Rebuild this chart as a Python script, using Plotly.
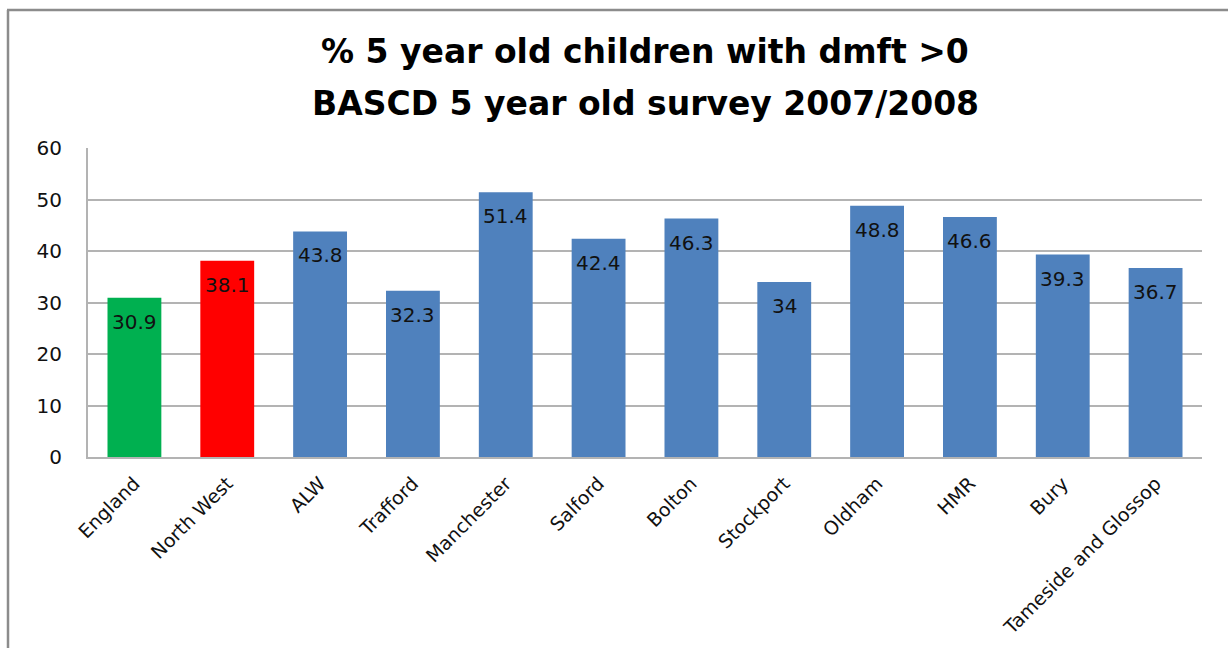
import plotly.graph_objects as go

# Survey results: percentage of 5 year olds with dmft > 0
areas = ["England", "North West", "ALW", "Trafford", "Manchester", "Salford",
         "Bolton", "Stockport", "Oldham", "HMR", "Bury", "Tameside and Glossop"]
pct = [30.9, 38.1, 43.8, 32.3, 51.4, 42.4, 46.3, 34, 48.8, 46.6, 39.3, 36.7]
bar_colors = ["#00B050", "#FF0000"] + ["#4F81BD"] * 10
y_ticks = [0, 10, 20, 30, 40, 50, 60]
title_lines = ["% 5 year old children with dmft >0", "BASCD 5 year old survey 2007/2008"]

W, H = 1228, 648
ML, MR, MT, MB = 88, 26, 148, 191
PW, PH = W - ML - MR, H - MT - MB

LABEL_FONT = "DejaVu Sans"
TITLE_FONT = "DejaVu Sans"
GRID = "#B3B3B3"
FRAME = "#8C8C8C"


def px_x(x):
    return (x - ML) / PW


def px_y(y):
    return (H - MB - y) / PH


fig = go.Figure(
    go.Bar(
        x=areas,
        y=pct,
        marker=dict(color=bar_colors, line=dict(width=0)),
        width=0.58,
        hoverinfo="x+y",
    )
)

# value labels just inside the top of each bar
annotations = [
    dict(x=a, y=v, xref="x", yref="y", text=f"{v:g}", showarrow=False,
         yanchor="middle", xanchor="center", yshift=-24,
         font=dict(family=LABEL_FONT, size=20, color="#111111"))
    for a, v in zip(areas, pct)
]

# two-line chart title
for line, ypix in zip(title_lines, [51, 104]):
    annotations.append(
        dict(x=0.5, y=px_y(ypix), xref="paper", yref="paper", text=f"<b>{line}</b>",
             showarrow=False, xanchor="center", yanchor="middle",
             font=dict(family=TITLE_FONT, size=33, color="#000000"))
    )

fig.update_layout(
    width=W,
    height=H,
    margin=dict(l=ML, r=MR, t=MT, b=MB, autoexpand=False),
    paper_bgcolor="white",
    plot_bgcolor="white",
    showlegend=False,
    font=dict(family=LABEL_FONT, size=20, color="#000000"),
    xaxis=dict(
        automargin=False,
        tickangle=-45,
        showgrid=False,
        showline=True,
        linecolor=GRID,
        linewidth=2,
        ticks="",
        ticklabelstandoff=6,
        tickfont=dict(family=LABEL_FONT, size=19, color="#111111"),
    ),
    yaxis=dict(
        automargin=False,
        range=[0, 60],
        tickvals=y_ticks,
        showgrid=True,
        gridcolor=GRID,
        gridwidth=2,
        showline=True,
        linecolor=GRID,
        linewidth=2,
        zeroline=False,
        ticks="",
        ticklabelstandoff=20,
        tickfont=dict(family=LABEL_FONT, size=20, color="#111111"),
    ),
    annotations=annotations,
    shapes=[
        # outer chart frame (left and top edges)
        dict(type="line", xref="paper", yref="paper",
             x0=px_x(8), x1=px_x(8), y0=px_y(10), y1=px_y(H + 5),
             line=dict(color=FRAME, width=2.5)),
        dict(type="line", xref="paper", yref="paper",
             x0=px_x(7), x1=px_x(W + 5), y0=px_y(10), y1=px_y(10),
             line=dict(color=FRAME, width=2.5)),
    ],
)

fig.write_html("out.html")
